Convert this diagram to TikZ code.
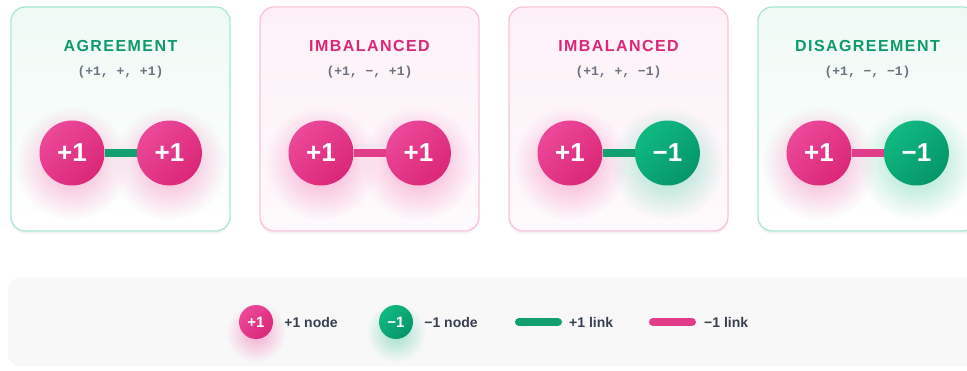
\documentclass[tikz,border=0pt]{standalone}
\usepackage{fontspec}
\setmainfont{Liberation Sans}
\setmonofont{Liberation Mono}
\usetikzlibrary{positioning,shadows,fadings}

\definecolor{plusA}{HTML}{EC4899}
\definecolor{plusB}{HTML}{DB2777}
\definecolor{minusA}{HTML}{10B981}
\definecolor{minusB}{HTML}{059669}
\definecolor{greentext}{HTML}{0E9A6C}
\definecolor{pinktext}{HTML}{DB2777}
\definecolor{greenedge}{HTML}{A9E9D0}
\definecolor{pinkedge}{HTML}{F9C3DC}
\definecolor{greentint}{HTML}{EFFAF5}
\definecolor{pinktint}{HTML}{FDF1F7}
\definecolor{subgray}{HTML}{6B7280}
\definecolor{labelgray}{HTML}{374151}
\definecolor{panelgray}{HTML}{F8F8F8}
\definecolor{greenlink}{HTML}{12A070}
\definecolor{pinklink}{HTML}{E03E89}

\tikzfading[name=softglow,inner color=transparent!0,outer color=transparent!100]

\begin{document}
\begin{tikzpicture}[x=1pt,y=-1pt,
    card/.style={rounded corners=14pt,line width=1.3pt,minimum width=219pt,minimum height=224pt,
        drop shadow={fill=black,opacity=0.04,shadow xshift=0pt,shadow yshift=-3pt}},
    agreecard/.style={card,draw=greenedge,top color=greentint,bottom color=white},
    clashcard/.style={card,draw=pinkedge,top color=pinktint,bottom color=white!60!pinktint},
    heading/.style={inner sep=0pt,font=\fontsize{16}{16}\selectfont\bfseries\addfontfeature{LetterSpace=9}},
    signs/.style={inner sep=0pt,text=subgray,font=\ttfamily\bfseries\fontsize{13}{13}\selectfont},
    plusnode/.style={circle,inner sep=0pt,minimum size=65pt,text=white,font=\fontsize{26}{26}\selectfont\bfseries,
        top color=plusA,bottom color=plusB,shading angle=45,
        general shadow={fill=plusA,opacity=0.45,path fading=softglow,fit fading=true,shadow xshift=0pt,shadow yshift=-6pt,shadow scale=1.75}},
    minusnode/.style={circle,inner sep=0pt,minimum size=65pt,text=white,font=\fontsize{26}{26}\selectfont\bfseries,
        top color=minusA,bottom color=minusB,shading angle=45,
        general shadow={fill=minusA,opacity=0.4,path fading=softglow,fit fading=true,shadow xshift=0pt,shadow yshift=-6pt,shadow scale=1.75}},
    keynode/.style={minimum size=34pt,font=\fontsize{15}{15}\selectfont\bfseries},
    pluslink/.style={draw=greenlink,line width=8pt},
    minuslink/.style={draw=pinklink,line width=8pt},
    keytext/.style={inner sep=0pt,text=labelgray,font=\fontsize{14}{14}\selectfont\bfseries}]

    \useasboundingbox (0,0) rectangle (967,371);

    % the four cards
    \node[agreecard] (c1) at (120.5,119) {};
    \node[clashcard] (c2) at (369.5,119) {};
    \node[clashcard] (c3) at (618.5,119) {};
    \node[agreecard] (c4) at (867.5,119) {};

    \node[heading,text=greentext] (t1) at (120.5,46) {AGREEMENT};
    \node[heading,text=pinktext] (t2) at (369.5,46) {IMBALANCED};
    \node[heading,text=pinktext] (t3) at (618.5,46) {IMBALANCED};
    \node[heading,text=greentext] (t4) at (867.5,46) {DISAGREEMENT};

    \node[signs] (s1) at (120.5,72) {(+1, +, +1)};
    \node[signs] (s2) at (369.5,72) {(+1, −, +1)};
    \node[signs] (s3) at (618.5,72) {(+1, +, −1)};
    \node[signs] (s4) at (867.5,72) {(+1, −, −1)};

    \node[plusnode] (a1) at (72,153) {+1};
    \node[plusnode] (b1) [right=32pt of a1] {+1};
    \node[plusnode] (a2) at (321,153) {+1};
    \node[plusnode] (b2) [right=32pt of a2] {+1};
    \node[plusnode] (a3) at (570,153) {+1};
    \node[minusnode] (b3) [right=32pt of a3] {−1};
    \node[plusnode] (a4) at (819,153) {+1};
    \node[minusnode] (b4) [right=32pt of a4] {−1};

    \path (a1) edge[pluslink] (b1)
          (a2) edge[minuslink] (b2)
          (a3) edge[pluslink] (b3)
          (a4) edge[minuslink] (b4);

    % legend
    \node[fill=panelgray,draw=black!3,rounded corners=12pt,minimum width=987pt,minimum height=86pt,
        drop shadow={fill=black,opacity=0.03,shadow xshift=0pt,shadow yshift=-2pt}] (panel) at (501.5,321) {};

    \node[plusnode,keynode] (kp) at (256,322) {+1};
    \node[keytext] (kpt) [right=11pt of kp] {+1 node};
    \node[minusnode,keynode] (km) at (396,322) {−1};
    \node[keytext] (kmt) [right=11pt of km] {−1 node};

    \coordinate (g1) at (519,322);
    \coordinate (g2) at (558,322);
    \coordinate (r1) at (653,322);
    \coordinate (r2) at (692,322);
    \path[line cap=round] (g1) edge[pluslink] (g2)
                          (r1) edge[minuslink] (r2);
    \node[keytext] (glt) [right=11pt of g2] {+1 link};
    \node[keytext] (rlt) [right=12pt of r2] {−1 link};
\end{tikzpicture}
\end{document}
